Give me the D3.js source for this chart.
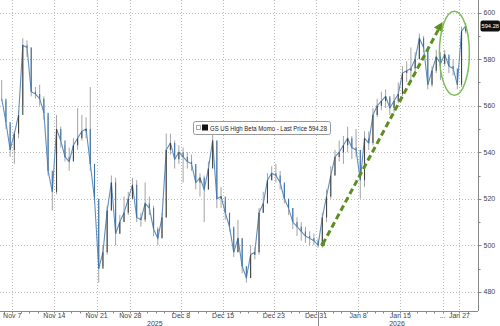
<!DOCTYPE html>
<html>
<head>
<meta charset="utf-8">
<script src="https://cdn.jsdelivr.net/npm/d3@7/dist/d3.min.js"></script>
<style>
  html, body { margin: 0; padding: 0; background: #fff; }
  svg { display: block; font-family: "Liberation Sans", Arial, sans-serif; }
</style>
</head>
<body>
<svg id="chart" width="500" height="326"></svg>
<script>
// Trading-day index of each half-day bar start (0 = Nov 5, 2025)
const barIndex = d3.range(0.5, 56, 0.5);
// Close of each half-day bar
const closes = [
  563, 553, 541, 548, 556, 586, 585, 566, 565, 563,
  557, 532, 523, 550, 545, 538, 536, 543, 546, 549,
  550, 535, 520, 490, 497, 515, 527, 505, 510, 514,
  520, 526, 512, 511, 518, 516, 507, 503, 512, 541,
  544, 537, 540, 538, 536, 535, 527, 529, 524, 533,
  545, 520, 521, 514, 508, 497, 503, 491, 486, 496,
  497, 514, 518, 528, 531, 530, 527, 520, 516, 510,
  508, 506, 504, 503, 502, 500, 512, 521, 530, 538,
  540, 543, 546, 542, 541, 528, 546, 544, 556, 560,
  562, 564, 559, 562, 565, 574, 575, 576, 580, 589,
  585, 569, 575, 581, 578, 582, 577, 576, 569, 592,
  594.28
];
const highs = [
  571, 562, 552, 549, 558, 589, 588, 585, 568, 569,
  564, 556, 530, 556, 551, 543, 542, 546, 559, 556,
  555, 568, 532, 519, 500, 517, 530, 529, 513, 521,
  523, 529, 528, 514, 527, 521, 517, 508, 514, 548,
  548, 545, 543, 542, 540, 539, 534, 531, 530, 536,
  548, 545, 525, 519, 513, 507, 511, 503, 491, 500,
  499, 516, 523, 531, 534, 535, 532, 526, 520, 516,
  512, 510, 508, 506, 505, 503, 514, 524, 534, 541,
  545, 547, 551, 547, 550, 541, 549, 549, 559, 563,
  566, 567, 563, 565, 570, 577, 579, 585, 583, 591,
  590, 585, 577, 584, 583, 584, 581, 580, 574, 594,
  595.5
];
const lows = [
  562, 550, 538, 535, 546, 560, 581, 564, 563, 560,
  554, 530, 515, 522, 542, 536, 532, 537, 541, 545,
  546, 532, 518, 484, 491, 496, 515, 500, 505, 510,
  513, 521, 510, 508, 510, 513, 504, 500, 503, 512,
  539, 533, 535, 527, 533, 532, 524, 521, 510, 524,
  536, 516, 516, 511, 506, 495, 497, 488, 484, 486,
  494, 496, 514, 521, 528, 527, 524, 518, 513, 507,
  504, 502, 501, 500, 500, 499, 499, 510, 520, 530,
  536, 535, 540, 537, 538, 520, 525, 541, 543, 555,
  558, 559, 556, 557, 561, 564, 570, 571, 573, 580,
  583, 567, 568, 574, 571, 577, 574, 573, 567, 568,
  591
];
// Date ticks (trading-day index) and labels
const tickIndex = [2, 7, 12, 16, 22, 27, 33, 38, 43, 48, 53, 55];
const tickLabels = ["Nov 7", "Nov 14", "Nov 21", "Nov 28", "Dec 8", "Dec 15", "Dec 23", "Dec 31", "Jan 8", "Jan 15", "...", "Jan 27"];
const yearLabels = ["2025", "2026"];
const yearIndex = [18.9, 47.6];
const yTicks = [480, 500, 520, 540, 560, 580, 600];
const seriesName = "GS US High Beta Momo - Last Price 594.28";
const lastPrice = 594.28;

const svg = d3.select("#chart");
const W = 478, H = 311;
const x = d3.scaleLinear().domain([0.55, 57.2]).range([0, W]);
const y = d3.scaleLinear().domain([471.8, 605.4]).range([H, 0]);

// Grid
const grid = svg.append("g");
grid.selectAll("line.h").data(yTicks).join("line")
  .attr("x1", 0).attr("x2", W)
  .attr("y1", d => Math.round(y(d)) + 0.5).attr("y2", d => Math.round(y(d)) + 0.5)
  .attr("stroke", "#bdbdbd").attr("stroke-width", 1).attr("stroke-dasharray", "1,2");
grid.selectAll("line.v").data(tickIndex).join("line")
  .attr("x1", d => Math.round(x(d)) + 0.5).attr("x2", d => Math.round(x(d)) + 0.5)
  .attr("y1", 0).attr("y2", H)
  .attr("stroke", "#bdbdbd").attr("stroke-width", 1).attr("stroke-dasharray", "1,2");

// Price bars
const bars = barIndex.map((t, i) => ({
  t: t + 0.25, c: closes[i], h: highs[i], l: lows[i],
  o: i > 0 ? closes[i - 1] : closes[0]
}));
const plot = svg.append("g");
plot.selectAll("line.wick").data(bars).join("line")
  .attr("x1", d => x(d.t)).attr("x2", d => x(d.t))
  .attr("y1", d => y(d.h)).attr("y2", d => y(d.l))
  .attr("stroke", "#9a9a9a").attr("stroke-width", 0.9);
plot.append("path").datum(bars)
  .attr("fill", "none").attr("stroke", "#5d8fc0").attr("stroke-width", 1.1)
  .attr("d", d3.line().x(d => x(d.t)).y(d => y(d.c)));
plot.selectAll("line.body").data(bars).join("line")
  .attr("x1", d => x(d.t)).attr("x2", d => x(d.t))
  .attr("y1", d => y(d.o)).attr("y2", d => y(d.c))
  .attr("stroke", d => d.c >= d.o ? "#444" : "#3f73a6").attr("stroke-width", 1.1);

// Axes
const xAxisG = svg.append("g").attr("transform", `translate(0,${H + 0.5})`);
xAxisG.append("line").attr("x1", 0).attr("x2", W).attr("stroke", "#888");
xAxisG.selectAll("line.minor").data(d3.range(1, 57)).join("line")
  .attr("x1", d => Math.round(x(d)) + 0.5).attr("x2", d => Math.round(x(d)) + 0.5)
  .attr("y1", 0).attr("y2", 2).attr("stroke", "#888");
xAxisG.selectAll("text.tl").data(tickIndex).join("text")
  .attr("x", (d) => x(d)).attr("y", 6.5)
  .attr("text-anchor", "middle").attr("font-size", 7).attr("fill", "#444")
  .text((d, i) => tickLabels[i]);
xAxisG.selectAll("text.yr").data(yearIndex).join("text")
  .attr("x", d => x(d)).attr("y", 14.5)
  .attr("text-anchor", "middle").attr("font-size", 7).attr("fill", "#444")
  .text((d, i) => yearLabels[i]);
xAxisG.append("line")
  .attr("x1", Math.round(x(38.2)) + 0.5).attr("x2", Math.round(x(38.2)) + 0.5)
  .attr("y1", 0).attr("y2", 15).attr("stroke", "#888");

const yAxisG = svg.append("g").attr("transform", `translate(${W + 0.5},0)`);
yAxisG.append("line").attr("y1", 0).attr("y2", H).attr("stroke", "#888");
yAxisG.selectAll("line.mn").data(d3.range(480, 606, 10)).join("line")
  .attr("y1", d => Math.round(y(d)) + 0.5).attr("y2", d => Math.round(y(d)) + 0.5)
  .attr("x1", 0).attr("x2", d => d % 20 === 0 ? 3 : 2).attr("stroke", "#888");
yAxisG.selectAll("text").data(yTicks).join("text")
  .attr("x", 5).attr("y", d => y(d) + 2.5)
  .attr("font-size", 7).attr("fill", "#444")
  .text(d => d);

// Last price tag
const tagY = y(lastPrice);
svg.append("rect").attr("x", W + 2.5).attr("y", tagY - 5.5).attr("width", 19.5).attr("height", 11)
  .attr("rx", 2).attr("fill", "#111");
svg.append("text").attr("x", W + 3.5).attr("y", tagY + 2.3)
  .attr("font-size", 6.2).attr("fill", "#fff")
  .attr("textLength", 17.5).attr("lengthAdjust", "spacingAndGlyphs")
  .text(lastPrice.toFixed(2));

// Legend
const lg = svg.append("g").attr("transform", "translate(193,121)");
lg.append("rect").attr("x", 0.5).attr("y", 0.5).attr("width", 137).attr("height", 13)
  .attr("rx", 2).attr("fill", "#fff").attr("stroke", "#999");
lg.append("rect").attr("x", 3.5).attr("y", 4.5).attr("width", 4).attr("height", 4)
  .attr("fill", "#fff").attr("stroke", "#aaa");
lg.append("rect").attr("x", 9).attr("y", 3.5).attr("width", 6).attr("height", 6).attr("fill", "#111");
lg.append("text").attr("x", 17).attr("y", 9.5).attr("font-size", 6.6).attr("fill", "#222")
  .attr("textLength", 117).attr("lengthAdjust", "spacingAndGlyphs")
  .text(seriesName);

// Annotation: dashed green trend arrow and ellipse
const ann = svg.append("g");
const ax0 = x(38.8), ay0 = y(500.5), ax1 = x(53.0), ay1 = y(596);
ann.append("circle").attr("cx", ax0).attr("cy", ay0).attr("r", 2.2).attr("fill", "#5b8f1f");
const ang = Math.atan2(ay1 - ay0, ax1 - ax0);
const hl = 9;
const bx = ax1 - hl * Math.cos(ang), by = ay1 - hl * Math.sin(ang);
ann.append("line").attr("x1", ax0).attr("y1", ay0).attr("x2", bx).attr("y2", by)
  .attr("stroke", "#5b8f1f").attr("stroke-width", 3).attr("stroke-dasharray", "6,3.5");
const px = -Math.sin(ang), py = Math.cos(ang);
ann.append("path")
  .attr("d", `M${ax1},${ay1} L${bx + px * 5},${by + py * 5} L${bx - px * 5},${by - py * 5} Z`)
  .attr("fill", "#5b8f1f");
ann.append("ellipse").attr("cx", x(54.4)).attr("cy", y(582.5)).attr("rx", 15).attr("ry", 42)
  .attr("fill", "none").attr("stroke", "#7cbf5a").attr("stroke-width", 1.5);
</script>
</body>
</html>
